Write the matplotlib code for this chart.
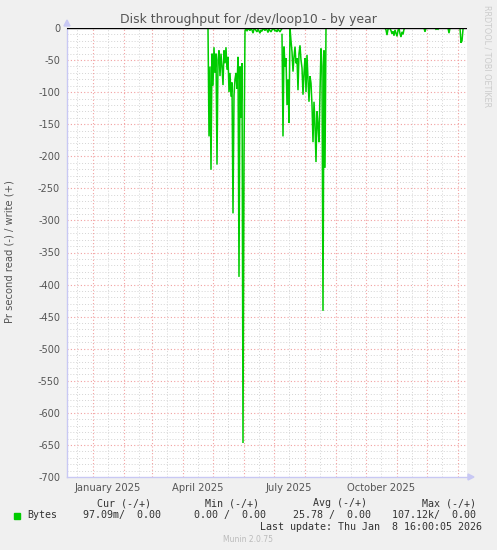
import numpy as np
import matplotlib
matplotlib.use("Agg")
import matplotlib.pyplot as plt
import matplotlib.dates as mdates
from datetime import datetime, timedelta

# ---------------- data ----------------
title = "Disk throughput for /dev/loop10 - by year"
ylabel = "Pr second read (-) / write (+)"
x_start = "2024-12-06"
x_end = "2026-01-10"

# daily read values (negative), segments: start date + daily values
seg1_start = "2025-04-26"
seg1_vals = [0, -169, -60, -221, -40, -90, -30, -70, -40, -213, -50, -35, -75, -40,
             -60, -89, -35, -55, -30, -65, -45, -100, -70, -107, -85, -289, -105,
             -80, -70, -95, -45, -388, -60, -140, -55, -647, -200, -5, 0]
seg2_start = "2025-06-03"
seg2_vals = [0, -5, -1, -2, -4, -1, -3, -8, -2, -1, -4, -6, -2, -5, -8, -3, -5, -1,
             -2, -4, -1, -3, -7, -2, -4, -6, -3, -1, -2, -5, -3, -6, -2, -4, -6, -3, -1]
seg3_start = "2025-07-09"
seg3_vals = [-10, -169, -29, -60, -47, -120, -80, -148, 0, -20, -37, -68, -45, -29,
             -55, -47, -97, -40, -27, -50, -62, -104, -70, -47, -100, -42, -80, -115,
             -75, -86, -120, -178, -115, -150, -209, -130, -151, -178, -100, -32, -60,
             -441, -35, -218, 0]
seg4_start = "2025-10-20"
seg4_vals = [0, -3, -11, -2, 0, -1, -4, -9, -5, -12, -3, -8, -13, -4, 0, -9, -14, -6,
             -10, -2, 0]
seg5_start = "2025-11-28"
seg5_vals = [0, -6, 0, 0, 0, 0, 0, 0, 0, 0, 0, 0, -2, -1, -2, 0, 0, 0, 0, 0, 0, 0, 0,
             0, 0, -8, 0, 0, 0, 0, 0, 0, 0, 0, 0, 0, 0, -23, -20, -2]

y_ticks = list(range(0, -701, -50))
x_label_texts = ["January 2025", "April 2025", "July 2025", "October 2025"]
x_label_dates = ["2025-01-16", "2025-04-16", "2025-07-16", "2025-10-16"]

legend_series = "Bytes"
legend_headers = ["Cur (-/+)", "Min (-/+)", "Avg (-/+)", "Max (-/+)"]
legend_cur = "97.09m/  0.00"
legend_min = "0.00 /  0.00"
legend_avg = "25.78 /  0.00"
legend_max = "107.12k/  0.00"
last_update = "Last update: Thu Jan  8 16:00:05 2026"
footer = "Munin 2.0.75"
side_text = "RRDTOOL / TOBI OETIKER"

# ---------------- build ----------------
def d(s):
    return datetime.strptime(s, "%Y-%m-%d")

segments = [(seg1_start, seg1_vals), (seg2_start, seg2_vals), (seg3_start, seg3_vals),
            (seg4_start, seg4_vals), (seg5_start, seg5_vals)]

W, H = 497, 550
fig = plt.figure(figsize=(W / 100, H / 100), dpi=100, facecolor="#F0F0F0")
L, R, T, B = 67, 467, 28, 477
ax = fig.add_axes([L / W, 1 - B / H, (R - L) / W, (B - T) / H])
ax.set_facecolor("white")

x0, x1 = d(x_start), d(x_end)
ax.set_xlim(x0, x1)
ax.set_ylim(-700, 0)

# grids
minor_c = "#D4D4D4"
major_c = "#F2A0A0"
dots = (0, (1, 2))
for yv in range(-690, 0, 10):
    if yv % 50 != 0:
        ax.axhline(yv, color=minor_c, lw=0.7, ls=dots, zorder=0)
for yv in y_ticks[1:-1]:
    ax.axhline(yv, color=major_c, lw=0.8, ls=dots, zorder=0.5)

m = datetime(2024, 12, 1)
while m < x1:
    mid = m.replace(day=16)
    if x0 < mid < x1:
        ax.axvline(mid, color=minor_c, lw=0.7, ls=dots, zorder=0)
    if x0 < m < x1:
        ax.axvline(m, color=major_c, lw=0.8, ls=dots, zorder=0.5)
    m = datetime(m.year + (m.month // 12), m.month % 12 + 1, 1)

# data
for start, vals in segments:
    s = d(start)
    xs = [s + timedelta(days=i) for i in range(len(vals))]
    ax.plot(xs, vals, color="#00CC00", lw=1.1, zorder=3, solid_joinstyle="miter")

ax.axhline(0, color="black", lw=1.0, zorder=4)

# axes styling
for sp in ["top", "right"]:
    ax.spines[sp].set_visible(False)
for sp in ["left", "bottom"]:
    ax.spines[sp].set_color("#C8C8F4")
    ax.spines[sp].set_linewidth(1.0)

ax.set_yticks(y_ticks)
ax.set_yticklabels([str(v) for v in y_ticks])
ax.tick_params(axis="y", length=0, pad=5, labelsize=7, labelcolor="#555555")
ax.set_xticks([d(s) for s in x_label_dates])
ax.set_xticklabels(x_label_texts)
ax.tick_params(axis="x", length=0, pad=4, labelsize=7.2, labelcolor="#555555")

# axis arrows
fig.patches.append(plt.Polygon([[(L - 3) / W, 1 - (T - 2) / H], [(L + 3) / W, 1 - (T - 2) / H],
                                [L / W, 1 - (T - 8) / H]], closed=True,
                               transform=fig.transFigure, color="#C8C8F4"))
fig.patches.append(plt.Polygon([[(R + 1) / W, 1 - (B - 3) / H], [(R + 1) / W, 1 - (B + 3) / H],
                                [(R + 7) / W, 1 - B / H]], closed=True,
                               transform=fig.transFigure, color="#C8C8F4"))

def ft(x, y, s, **kw):
    fig.text(x / W, 1 - y / H, s, **kw)

ft(248, 19, title, ha="center", va="center", fontsize=8.9, color="#555555")
ft(10, 252, ylabel, ha="center", va="center", rotation=90, fontsize=7.2, color="#555555")
ft(487, 56, side_text, ha="center", va="center", rotation=270, fontsize=5.8, color="#CCCCCC")

mono = dict(family="DejaVu Sans Mono", fontsize=7.2, color="#333333", va="center")
for hx, htxt in zip([151, 259, 367, 476], legend_headers):
    ft(hx, 503, htxt, ha="right", **mono)
ft(27, 515, legend_series, ha="left", **mono)
ft(161, 515, legend_cur, ha="right", **mono)
ft(266, 515, legend_min, ha="right", **mono)
ft(371, 515, legend_avg, ha="right", **mono)
ft(476, 515, legend_max, ha="right", **mono)
ft(482, 527, last_update, ha="right", **mono)
fig.patches.append(plt.Rectangle((14 / W, 1 - 519 / H), 6 / W, 6 / H,
                                 transform=fig.transFigure, color="#00CC00"))
ft(248, 539, footer, ha="center", va="center", fontsize=5.5, color="#BBBBBB")

fig.savefig("out.png", dpi=100, facecolor=fig.get_facecolor())
